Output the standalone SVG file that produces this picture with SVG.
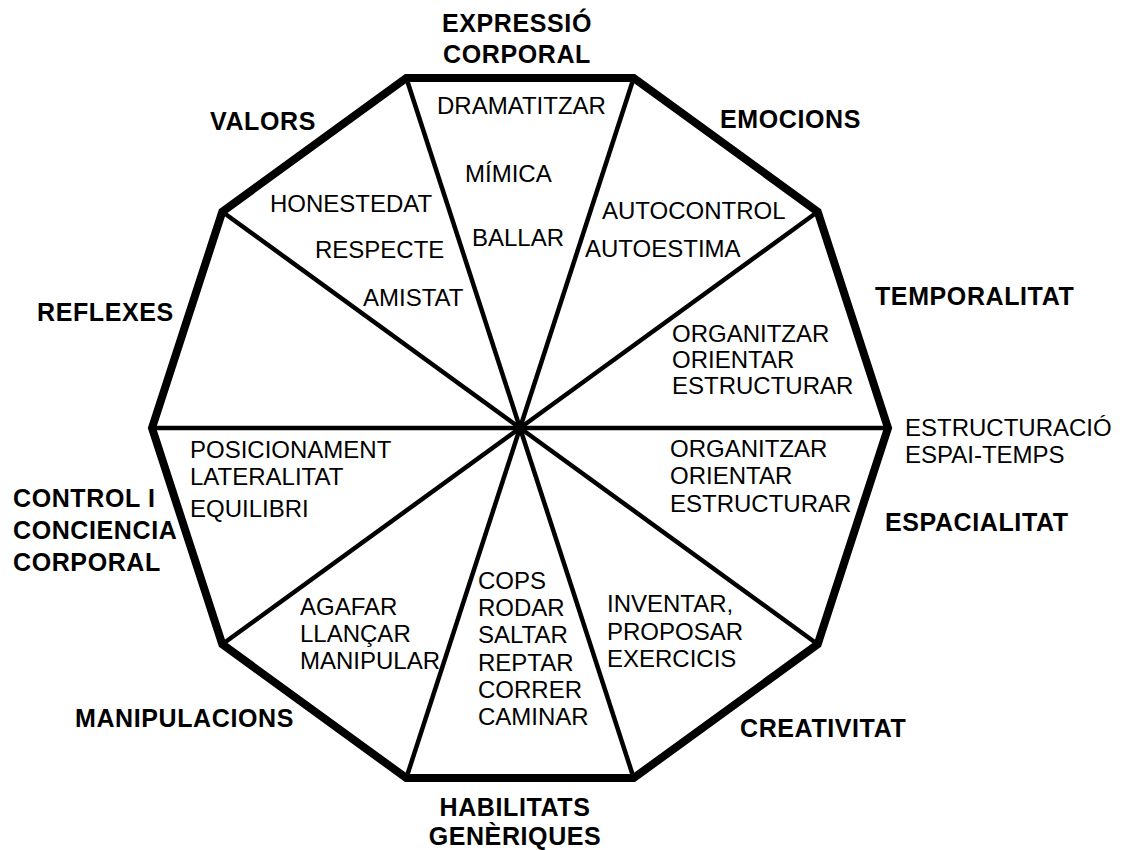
<svg xmlns="http://www.w3.org/2000/svg" width="1122" height="850" viewBox="0 0 1122 850">
<style>
.b{font-family:"Liberation Sans",Arial,sans-serif;font-weight:bold;font-size:25px;letter-spacing:0.6px;fill:#000}
.r{font-family:"Liberation Sans",Arial,sans-serif;font-size:24px;fill:#000}
.spoke{stroke:#000;stroke-width:4.5;fill:none}
.outer{stroke:#000;stroke-width:8;fill:#fff;stroke-linejoin:miter}
</style>
<rect width="1122" height="850" fill="#fff"/>
<polygon id="decagon" class="outer" points="888,428 817.7,211.7 633.7,78 406.3,78 222.3,211.7 152,428 222.3,644.3 406.3,778 633.7,778 817.7,644.3"/>
<g id="connectors">
<line class="spoke" x1="520" y1="428" x2="888" y2="428"/>
<line class="spoke" x1="520" y1="428" x2="817.7" y2="211.7"/>
<line class="spoke" x1="520" y1="428" x2="633.7" y2="78"/>
<line class="spoke" x1="520" y1="428" x2="406.3" y2="78"/>
<line class="spoke" x1="520" y1="428" x2="222.3" y2="211.7"/>
<line class="spoke" x1="520" y1="428" x2="152" y2="428"/>
<line class="spoke" x1="520" y1="428" x2="222.3" y2="644.3"/>
<line class="spoke" x1="520" y1="428" x2="406.3" y2="778"/>
<line class="spoke" x1="520" y1="428" x2="633.7" y2="778"/>
<line class="spoke" x1="520" y1="428" x2="817.7" y2="644.3"/>
</g>
<g id="expressio">
<text class="b" x="517" y="32" text-anchor="middle">EXPRESSIÓ</text>
<text class="b" x="517" y="63" text-anchor="middle">CORPORAL</text>
<text class="r" x="437" y="114">DRAMATITZAR</text>
<text class="r" x="465" y="182">MÍMICA</text>
<text class="r" x="472" y="246">BALLAR</text>
</g>
<g id="valors">
<text class="b" x="210" y="130">VALORS</text>
<text class="r" x="270" y="212">HONESTEDAT</text>
<text class="r" x="315" y="258">RESPECTE</text>
<text class="r" x="363" y="306">AMISTAT</text>
</g>
<g id="emocions">
<text class="b" x="720" y="128">EMOCIONS</text>
<text class="r" x="602" y="219">AUTOCONTROL</text>
<text class="r" x="585" y="257">AUTOESTIMA</text>
</g>
<g id="reflexes">
<text class="b" x="37" y="321">REFLEXES</text>
</g>
<g id="temporalitat">
<text class="b" x="875" y="305">TEMPORALITAT</text>
<text class="r" x="672" y="342">ORGANITZAR</text>
<text class="r" x="672" y="368">ORIENTAR</text>
<text class="r" x="672" y="394">ESTRUCTURAR</text>
</g>
<g id="estructuracio">
<text class="r" x="905" y="436">ESTRUCTURACIÓ</text>
<text class="r" x="905" y="463">ESPAI-TEMPS</text>
</g>
<g id="espacialitat">
<text class="b" x="885" y="531">ESPACIALITAT</text>
<text class="r" x="670" y="457">ORGANITZAR</text>
<text class="r" x="670" y="484">ORIENTAR</text>
<text class="r" x="670" y="512">ESTRUCTURAR</text>
</g>
<g id="control">
<text class="b" x="13" y="507">CONTROL I</text>
<text class="b" x="13" y="539">CONCIENCIA</text>
<text class="b" x="13" y="571">CORPORAL</text>
<text class="r" x="190" y="458">POSICIONAMENT</text>
<text class="r" x="190" y="485">LATERALITAT</text>
<text class="r" x="190" y="517">EQUILIBRI</text>
</g>
<g id="manipulacions">
<text class="b" x="75" y="727">MANIPULACIONS</text>
<text class="r" x="300" y="615">AGAFAR</text>
<text class="r" x="300" y="642">LLANÇAR</text>
<text class="r" x="300" y="669">MANIPULAR</text>
</g>
<g id="habilitats">
<text class="b" x="515" y="816" text-anchor="middle">HABILITATS</text>
<text class="b" x="515" y="845" text-anchor="middle">GENÈRIQUES</text>
<text class="r" x="478" y="589">COPS</text>
<text class="r" x="478" y="616">RODAR</text>
<text class="r" x="478" y="643">SALTAR</text>
<text class="r" x="478" y="671">REPTAR</text>
<text class="r" x="478" y="698">CORRER</text>
<text class="r" x="478" y="725">CAMINAR</text>
</g>
<g id="creativitat">
<text class="b" x="740" y="737">CREATIVITAT</text>
<text class="r" x="607" y="612">INVENTAR,</text>
<text class="r" x="607" y="640">PROPOSAR</text>
<text class="r" x="607" y="667">EXERCICIS</text>
</g>
</svg>
